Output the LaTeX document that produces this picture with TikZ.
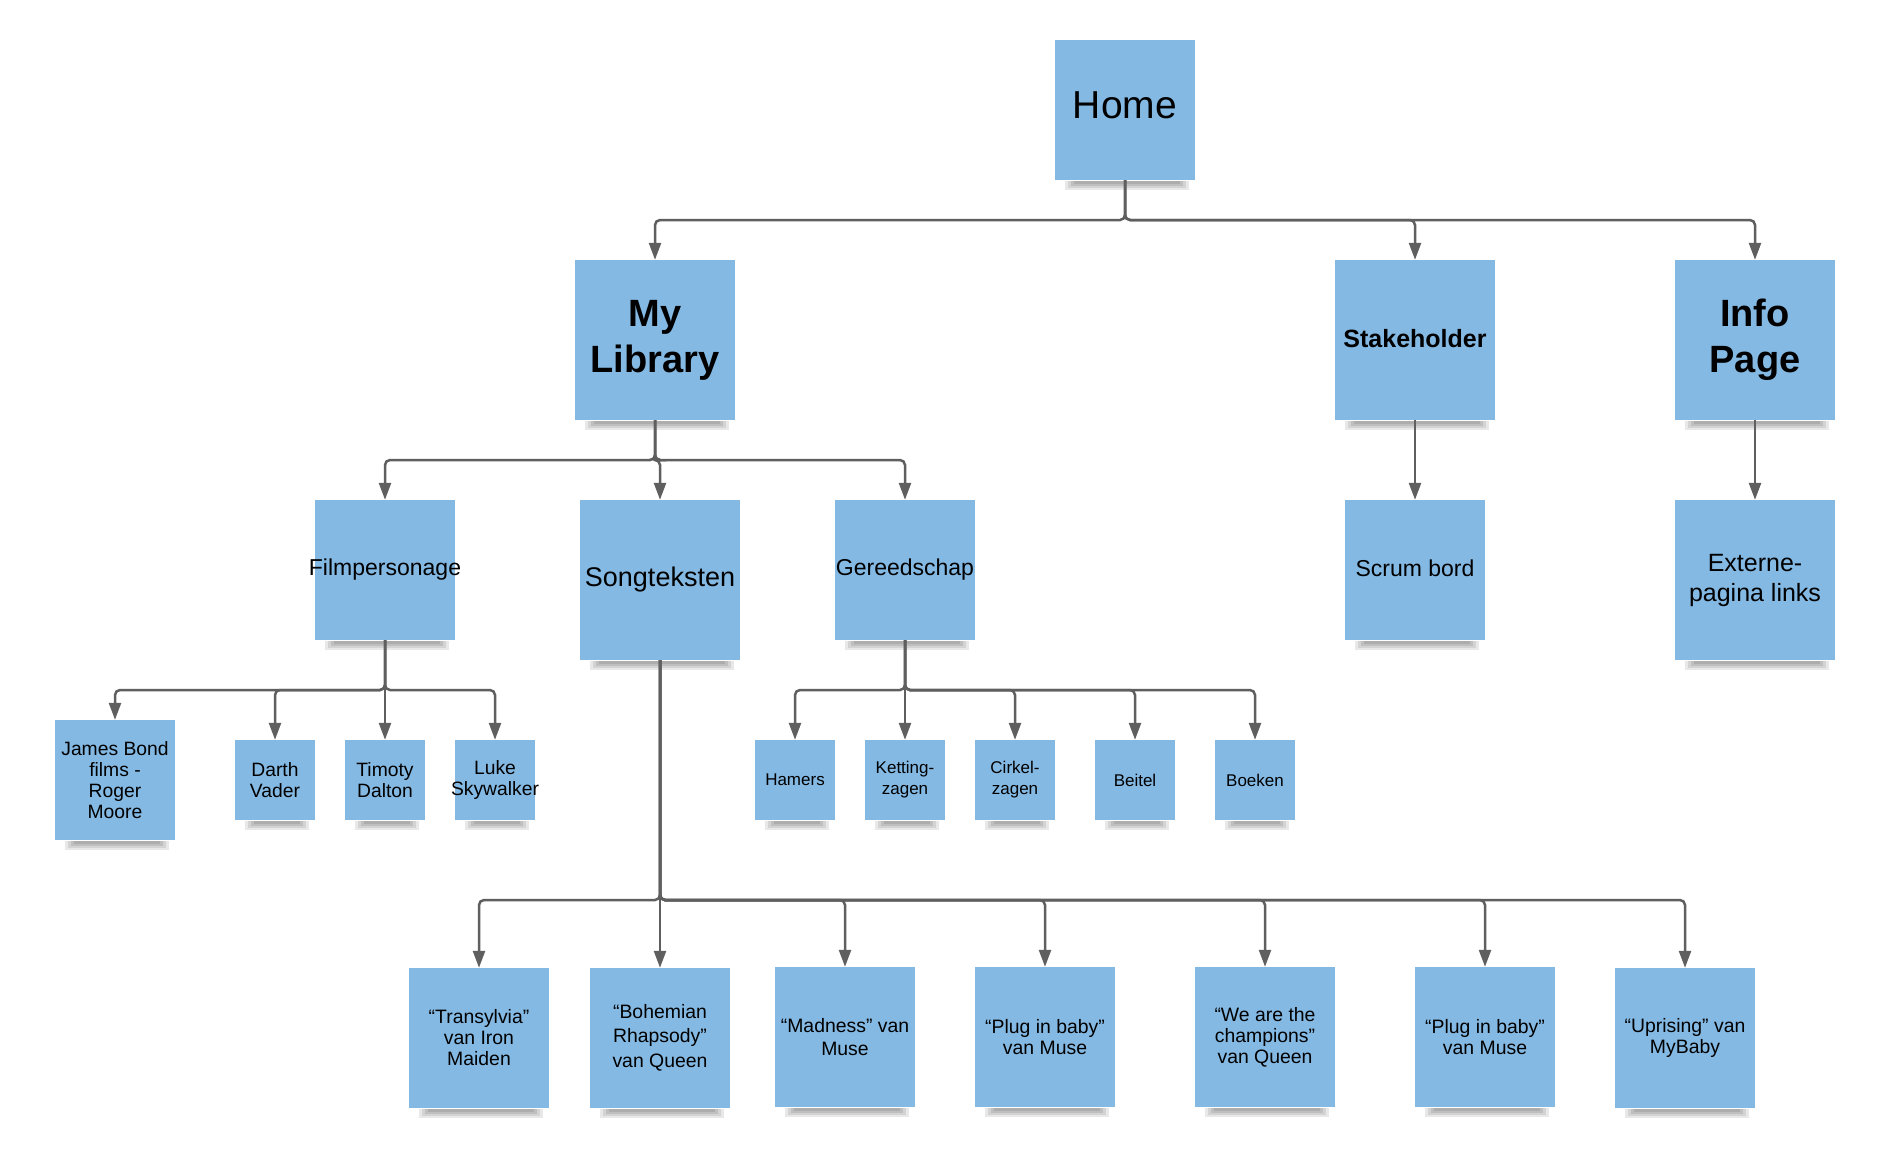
\documentclass[tikz,border=0pt]{standalone}
\usepackage{fontspec}
\setmainfont{Liberation Sans}
\usetikzlibrary{arrows.meta,calc}
\definecolor{boxblue}{HTML}{84B9E3}
\definecolor{linegray}{HTML}{5F5F5F}
\newcommand\myfs[2]{\fontsize{#1}{#2}\selectfont}
\newcommand\zb[1]{\makebox[0pt][c]{#1}}
\newcommand\shd[1]{%
  \foreach \k in {0,1,2,3}{%
    \fill[black,opacity=0.09] ($(#1.south west)+(10+3*\k,1)$) rectangle ($(#1.south east)+(-6-3*\k,10-2*\k)$);}}
\newcommand\conn[3]{\draw[conn] (#1.south) -- (#1.south |- #3) -- (#2.north |- #3) -- (#2.north);}
\tikzset{
  box/.style={fill=boxblue, inner sep=0pt, align=center, text=black},
  sq140/.style={box, minimum width=140, minimum height=140},
  sq160/.style={box, minimum width=160, minimum height=160},
  sm/.style={box, minimum width=80, minimum height=80},
  conn/.style={draw=linegray, line width=2.5pt, rounded corners=5pt, -{Triangle[length=17pt,width=12pt]}},
}
\begin{document}
\begin{tikzpicture}[x=1pt,y=-1pt]
\useasboundingbox (0,0) rectangle (1895,1165);
\fill[white] (0,0) rectangle (1895,1165);
\coordinate (b1) at (0,220);
\coordinate (b2) at (0,460);
\coordinate (b3) at (0,690);
\coordinate (b4) at (0,900);
% level 0
\node[sq140, font=\myfs{39}{47}] (home) at (1125,110) {\raisebox{9pt}{Home}};
% level 1
\node[sq160, font=\bfseries\myfs{38}{46}] (lib) at (655,340) {My\\Library};
\node[sq160, font=\bfseries\myfs{25}{30}] (stake) at (1415,340) {\raisebox{3pt}{Stakeholder}};
\node[sq160, font=\bfseries\myfs{38}{46}] (info) at (1755,340) {Info\\Page};
% level 2
\node[sq140, font=\myfs{23}{28}] (film) at (385,570) {\zb{Filmpersonage}};
\node[sq160, font=\myfs{27}{32}] (song) at (660,580) {Songteksten};
\node[sq140, font=\myfs{23}{28}] (gereed) at (905,570) {\zb{Gereedschap}};
\node[sq140, font=\myfs{23}{28}] (scrum) at (1415,570) {\raisebox{3pt}{Scrum bord}};
\node[sq160, font=\myfs{25}{30}] (ext) at (1755,580) {Externe-\\pagina links};
% level 3 film
\node[box, minimum width=120, minimum height=120, font=\myfs{19.3}{21}] (james) at (115,780) {James Bond\\films -\\Roger\\Moore};
\node[sm, font=\myfs{19.3}{21}] (darth) at (275,780) {Darth\\Vader};
\node[sm, font=\myfs{19.3}{21}] (timoty) at (385,780) {Timoty\\Dalton};
\node[sm, font=\myfs{19.3}{21}] (luke) at (495,780) {Luke\\\zb{Skywalker}};
% level 3 gereedschap
\node[sm, font=\myfs{17}{21}] (hamers) at (795,780) {Hamers};
\node[sm, font=\myfs{17}{21}] (ketting) at (905,780) {Ketting-\\zagen};
\node[sm, font=\myfs{17}{21}] (cirkel) at (1015,780) {Cirkel-\\zagen};
\node[sm, font=\myfs{17}{21}] (beitel) at (1135,780) {Beitel};
\node[sm, font=\myfs{17}{21}] (boeken) at (1255,780) {Boeken};
% level 3 songs
\node[sq140, font=\myfs{19.4}{21}] (s1) at (479,1038) {“Transylvia”\\van Iron\\Maiden};
\node[sq140, font=\myfs{19.4}{24}] (s2) at (660,1038) {“Bohemian\\Rhapsody”\\[1pt]van Queen};
\node[sq140, font=\myfs{19.4}{21}] (s3) at (845,1037) {\raisebox{2pt}{“Madness” van}\\Muse};
\node[sq140, font=\myfs{19.4}{21}] (s4) at (1045,1037) {“Plug in baby”\\van Muse};
\node[sq140, font=\myfs{19.4}{21}] (s5) at (1265,1037) {“We are the\\champions”\\van Queen};
\node[sq140, font=\myfs{19.4}{21}] (s6) at (1485,1037) {“Plug in baby”\\van Muse};
\node[sq140, font=\myfs{19.4}{21}] (s7) at (1685,1038) {“Uprising” van\\MyBaby};
% shadows
\foreach \n in {home,lib,stake,info,film,song,gereed,scrum,ext,james,darth,timoty,luke,hamers,ketting,cirkel,beitel,boeken,s1,s2,s3,s4,s5,s6,s7}{\shd{\n}}
% connectors
\conn{home}{lib}{b1}
\conn{home}{stake}{b1}
\conn{home}{info}{b1}
\draw[conn] (stake.south) -- (scrum.north);
\draw[conn] (info.south) -- (ext.north);
\conn{lib}{film}{b2}
\conn{lib}{song}{b2}
\conn{lib}{gereed}{b2}
\conn{film}{james}{b3}
\conn{film}{darth}{b3}
\draw[conn] (film.south) -- (timoty.north);
\conn{film}{luke}{b3}
\conn{gereed}{hamers}{b3}
\draw[conn] (gereed.south) -- (ketting.north);
\conn{gereed}{cirkel}{b3}
\conn{gereed}{beitel}{b3}
\conn{gereed}{boeken}{b3}
\conn{song}{s1}{b4}
\draw[conn] (song.south) -- (s2.north);
\conn{song}{s3}{b4}
\conn{song}{s4}{b4}
\conn{song}{s5}{b4}
\conn{song}{s6}{b4}
\conn{song}{s7}{b4}
\end{tikzpicture}
\end{document}
